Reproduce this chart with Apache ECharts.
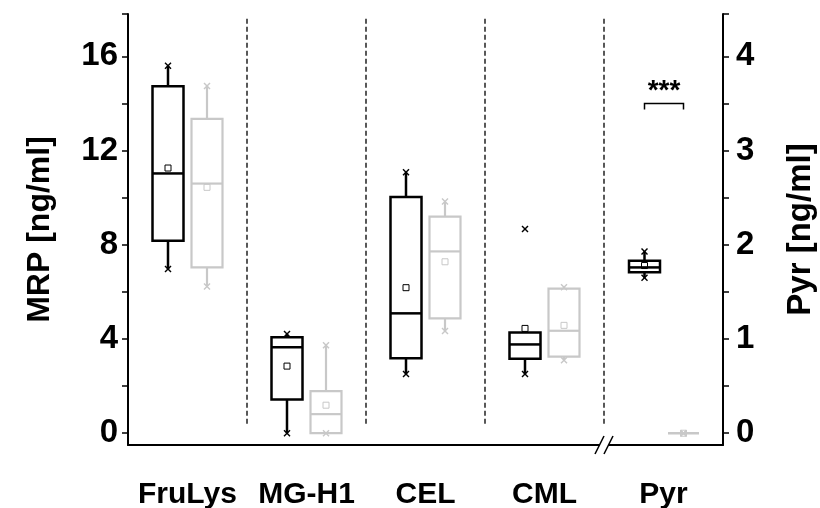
<!DOCTYPE html>
<html>
<head>
<meta charset="utf-8">
<script src="https://cdn.jsdelivr.net/npm/echarts@6/dist/echarts.min.js"></script>
<style>
  html, body { margin: 0; padding: 0; background: #fff; }
  #chart { width: 820px; height: 508px; }
</style>
</head>
<body>
<div id="chart"></div>
<script>
const categories = ['FruLys', 'MG-H1', 'CEL', 'CML', 'Pyr'];

// MRP groups, left axis: [whiskerLow, Q1, median, Q3, whiskerHigh]
const boxBlack = [
    [6.97, 8.17, 11.03, 14.73, 15.6],
    [0, 1.43, 3.65, 4.07, 4.21],
    [2.51, 3.18, 5.09, 10.03, 11.08],
    [2.51, 3.16, 3.77, 4.28, 4.28]
];
const boxGray = [
    [6.23, 7.04, 10.6, 13.35, 14.74],
    [0, 0, 0.81, 1.79, 3.74],
    [4.34, 4.88, 7.72, 9.2, 9.84],
    [3.1, 3.25, 4.35, 6.14, 6.2]
];
const meanBlack = [11.26, 2.85, 6.18, 4.45];
const meanGray = [10.44, 1.19, 7.28, 4.58];
// min / max markers (x)
const extBlack = [[6.97, 15.6], [0, 4.21], [2.51, 11.08], [2.51, 8.67]];
const extGray = [[6.23, 14.74], [0, 3.74], [4.34, 9.84], [3.1, 6.2]];

// Pyr, right axis
const pyrBlack = [1.65, 1.71, 1.76, 1.83, 1.93];
const pyrGray = [0, 0, 0, 0, 0];
const pyrMean = [1.78, 0];
const pyrExt = [[1.65, 1.93], [0, 0]];

const leftTicks = [0, 2, 4, 6, 8, 10, 12, 14, 16];
const leftLabels = [0, 4, 8, 12, 16];
const rightTicks = [0, 0.5, 1, 1.5, 2, 2.5, 3, 3.5, 4];
const rightLabels = [0, 1, 2, 3, 4];
const sigLevel = 3.5;
const sigText = '***';

const FONT = '"Liberation Sans", Arial, sans-serif';
const BLACK = '#000';
const GRAY = '#c8c8c8';

const chart = echarts.init(document.getElementById('chart'));

// box + whiskers + median + mean + x markers
function boxRenderer(color, dx, lw) {
    return function (params, api) {
        const ci = api.value(0);
        const x = api.coord([ci, 0])[0] + dx;
        const y = v => api.coord([ci, v])[1];
        const w = 31;
        const st = { stroke: color, lineWidth: lw, fill: 'none' };
        const cross = (cy) => ({
            type: 'group',
            children: [
                { type: 'line', shape: { x1: x - 3, y1: cy - 3, x2: x + 3, y2: cy + 3 }, style: { stroke: color, lineWidth: 1.4 } },
                { type: 'line', shape: { x1: x - 3, y1: cy + 3, x2: x + 3, y2: cy - 3 }, style: { stroke: color, lineWidth: 1.4 } }
            ]
        });
        return {
            type: 'group',
            children: [
                { type: 'line', shape: { x1: x, y1: y(api.value(1)), x2: x, y2: y(api.value(2)) }, style: st },
                { type: 'line', shape: { x1: x, y1: y(api.value(4)), x2: x, y2: y(api.value(5)) }, style: st },
                { type: 'rect', shape: { x: x - w / 2, y: y(api.value(4)), width: w, height: y(api.value(2)) - y(api.value(4)) }, style: st },
                { type: 'line', shape: { x1: x - w / 2, y1: y(api.value(3)), x2: x + w / 2, y2: y(api.value(3)) }, style: st },
                { type: 'rect', shape: { x: x - 3, y: y(api.value(6)) - 3, width: 6, height: 6 }, style: { stroke: color, lineWidth: 1, fill: 'none' } },
                cross(y(api.value(7))),
                cross(y(api.value(8)))
            ]
        };
    };
}

const blackData = boxBlack.map((b, i) => [i, ...b, meanBlack[i], ...extBlack[i]]);
const grayData = boxGray.map((b, i) => [i, ...b, meanGray[i], ...extGray[i]]);
const pyrBlackData = [[4, ...pyrBlack, pyrMean[0], ...pyrExt[0]]];
const pyrGrayData = [[4, ...pyrGray, pyrMean[1], ...pyrExt[1]]];

const boxSeries = (name, data, color, dx, lw, yIdx) => ({
    name: name,
    type: 'custom',
    yAxisIndex: yIdx,
    renderItem: boxRenderer(color, dx, lw),
    encode: { x: 0, y: [1, 2, 3, 4, 5] },
    data: data,
    z: 5
});

const option = {
    animation: false,
    backgroundColor: '#fff',
    grid: { left: 128, right: 97, top: 14, bottom: 63, outerBoundsMode: 'none', containLabel: false },
    xAxis: {
        type: 'category',
        data: categories,
        boundaryGap: true,
        axisLine: { onZero: false, lineStyle: { color: BLACK, width: 2 } },
        axisTick: { show: false },
        axisLabel: { interval: 0, color: BLACK, fontFamily: FONT, fontWeight: 'bold', fontSize: 30, margin: 35 },
        splitLine: { show: false }
    },
    yAxis: [
        {
            type: 'value',
            min: -0.5,
            max: 17.8,
            name: 'MRP [ng/ml]',
            nameLocation: 'middle',
            nameRotate: 90,
            nameGap: 72,
            nameTextStyle: { color: BLACK, fontFamily: FONT, fontWeight: 'bold', fontSize: 32 },
            axisLine: { show: true, lineStyle: { color: BLACK, width: 2 } },
            axisTick: { show: true, inside: false, length: 6, customValues: leftTicks.concat([17.8]), lineStyle: { color: BLACK, width: 1.5 } },
            axisLabel: { customValues: leftLabels, color: BLACK, fontFamily: FONT, fontWeight: 'bold', fontSize: 33, margin: 10 },
            splitLine: { show: false }
        },
        {
            type: 'value',
            min: -0.125,
            max: 4.45,
            position: 'right',
            name: 'Pyr [ng/ml]',
            nameLocation: 'middle',
            nameRotate: 90,
            nameGap: 61,
            nameTextStyle: { color: BLACK, fontFamily: FONT, fontWeight: 'bold', fontSize: 33 },
            axisLine: { show: true, lineStyle: { color: BLACK, width: 2 } },
            axisTick: { show: true, inside: false, length: 6, customValues: rightTicks.concat([4.45]), lineStyle: { color: BLACK, width: 1.5 } },
            axisLabel: { customValues: rightLabels, color: BLACK, fontFamily: FONT, fontWeight: 'bold', fontSize: 33, margin: 13 },
            splitLine: { show: false }
        }
    ],
    series: [
        {
            // dashed group separators
            type: 'custom',
            renderItem: function (params, api) {
                const i = api.value(0);
                const x = (api.coord([i, 0])[0] + api.coord([i + 1, 0])[0]) / 2;
                return {
                    type: 'line',
                    shape: { x1: x, y1: api.coord([i, 0.4])[1], x2: x, y2: api.coord([i, 17.7])[1] },
                    style: { stroke: '#222', lineWidth: 1.5, lineDash: [5, 3] }
                };
            },
            encode: { x: 0 },
            data: [[0], [1], [2], [3]],
            z: 1
        },
        boxSeries('black', blackData, BLACK, -19.5, 2.5, 0),
        boxSeries('gray', grayData, GRAY, 19.5, 2.2, 0),
        boxSeries('pyrBlack', pyrBlackData, BLACK, -19, 2.5, 1),
        boxSeries('pyrGray', pyrGrayData, GRAY, 20, 2.2, 1),
        {
            // significance bracket
            type: 'custom',
            yAxisIndex: 1,
            renderItem: function (params, api) {
                const p = api.coord([api.value(0), api.value(1)]);
                const x1 = p[0] - 19, x2 = p[0] + 20, y = p[1];
                return {
                    type: 'group',
                    children: [
                        { type: 'polyline', shape: { points: [[x1, y + 6], [x1, y], [x2, y], [x2, y + 6]] }, style: { stroke: BLACK, lineWidth: 1.5, fill: 'none' } },
                        { type: 'text', style: { x: (x1 + x2) / 2, y: y + 2, text: sigText, fill: BLACK, font: 'bold 28px ' + FONT, align: 'center', verticalAlign: 'bottom' } }
                    ]
                };
            },
            encode: { x: 0, y: 1 },
            data: [[4, sigLevel]],
            z: 5
        }
    ]
};

chart.setOption(option);

// axis break marks between CML and Pyr
const xa = chart.convertToPixel({ xAxisIndex: 0 }, 'CML');
const xb = chart.convertToPixel({ xAxisIndex: 0 }, 'Pyr');
const bx = (xa + xb) / 2;
const by = chart.convertToPixel({ yAxisIndex: 0 }, -0.5);
chart.setOption({
    graphic: [
        { type: 'rect', z: 100, shape: { x: bx - 4, y: by - 3, width: 8, height: 6 }, style: { fill: '#fff' } },
        { type: 'line', z: 101, shape: { x1: bx - 9, y1: by + 9, x2: bx, y2: by - 9 }, style: { stroke: BLACK, lineWidth: 1.5 } },
        { type: 'line', z: 101, shape: { x1: bx, y1: by + 9, x2: bx + 9, y2: by - 9 }, style: { stroke: BLACK, lineWidth: 1.5 } }
    ]
});
</script>
</body>
</html>
